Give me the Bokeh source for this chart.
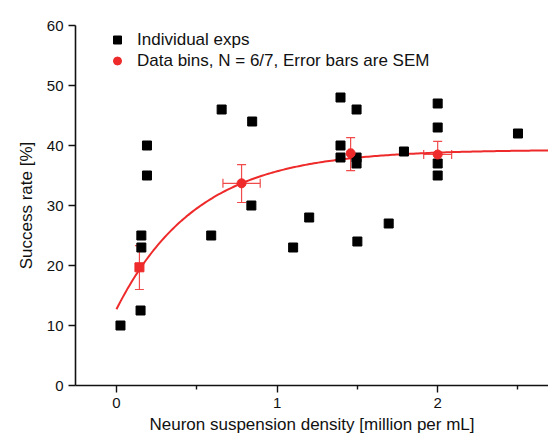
import numpy as np
from bokeh.plotting import figure
from bokeh.models import (ColumnDataSource, Range1d, Whisker, TeeHead, Legend,
                          LegendItem, FixedTicker)
from bokeh.embed import file_html
from bokeh.resources import INLINE

# Individual experiments
exp_x = [0.025, 0.15, 0.155, 0.155, 0.19, 0.19, 0.59, 0.655, 0.845, 0.84,
         1.10, 1.20, 1.50, 1.695, 1.395, 1.495, 1.395, 1.395, 1.495, 1.495,
         1.79, 2.0, 2.0, 2.0, 2.0, 2.5]
exp_y = [10, 12.5, 25, 23, 40, 35, 25, 46, 44, 30,
         23, 28, 24, 27, 48, 46, 40, 38, 38, 37,
         39, 47, 43, 37, 35, 42]

# Data bins (mean +- SEM)
bin_x = [0.143, 0.779, 1.458, 2.0]
bin_y = [19.7, 33.7, 38.7, 38.5]
bin_yerr_up = [23.3, 36.8, 41.3, 40.7]
bin_yerr_lo = [16.0, 30.5, 35.8, 36.4]
bin_xerr = [0.01, 0.116, 0.012, 0.087]
bin_marker = ["square", "circle", "circle", "circle"]

# Exponential saturation fit: y = A - B * exp(-x / t)
fit_A, fit_B, fit_t = 39.3, 26.6, 0.50

x_ticks = [0, 1, 2]
y_ticks = [0, 10, 20, 30, 40, 50, 60]

FONT = "Liberation Sans"
RED = "#ee2a2a"
ERR = "#f04a4a"
INK = "#111111"

XMAX = 2.69

p = figure(width=548, height=441, output_backend="svg", toolbar_location=None,
           x_range=Range1d(-0.255, XMAX), y_range=Range1d(0, 60),
           min_border_left=75, min_border_right=0, min_border_top=25,
           min_border_bottom=56)
p.outline_line_color = None
p.xgrid.visible = False
p.ygrid.visible = False
p.background_fill_color = "white"

# fit curve
fx = np.linspace(0, XMAX, 200)
fy = fit_A - fit_B * np.exp(-fx / fit_t)
p.line(fx, fy, line_color=RED, line_width=2)

exp_src = ColumnDataSource(dict(x=exp_x, y=exp_y))
r_exp = p.scatter("x", "y", source=exp_src, marker="square", size=9,
                  fill_color="black", line_color="black")

bsrc = ColumnDataSource(dict(
    x=bin_x, y=bin_y, up=bin_yerr_up, lo=bin_yerr_lo,
    xl=[a - b for a, b in zip(bin_x, bin_xerr)],
    xr=[a + b for a, b in zip(bin_x, bin_xerr)],
    m=bin_marker))

wy = Whisker(source=bsrc, base="x", upper="up", lower="lo", dimension="height",
             line_color=ERR, line_width=1.2,
             upper_head=TeeHead(size=9, line_color=ERR, line_width=1.2),
             lower_head=TeeHead(size=9, line_color=ERR, line_width=1.2))
wx = Whisker(source=bsrc, base="y", upper="xr", lower="xl", dimension="width",
             line_color=ERR, line_width=1.2,
             upper_head=TeeHead(size=9, line_color=ERR, line_width=1.2),
             lower_head=TeeHead(size=9, line_color=ERR, line_width=1.2))
p.add_layout(wy)
p.add_layout(wx)
r_bin = p.scatter("x", "y", source=bsrc, marker="m", size=9,
                  fill_color=RED, line_color=RED)

legend = Legend(items=[
    LegendItem(label="Individual exps", renderers=[r_exp]),
    LegendItem(label="Data bins, N = 6/7, Error bars are SEM",
               renderers=[r_bin], index=1)],
    location=(32, 314), orientation="vertical")
legend.border_line_color = None
legend.background_fill_alpha = 0
legend.padding = 0
legend.margin = 0
legend.spacing = 0
legend.glyph_width = 20
legend.glyph_height = 21
legend.label_height = 21
legend.label_standoff = 10
legend.label_text_font = FONT
legend.label_text_font_size = "17px"
legend.label_text_color = INK
p.add_layout(legend, "center")

for ax in (p.xaxis[0], p.yaxis[0]):
    ax.axis_line_color = INK
    ax.axis_line_width = 1.6
    ax.major_tick_line_color = INK
    ax.major_tick_line_width = 1.4
    ax.major_tick_out = 7
    ax.major_tick_in = 0
    ax.major_label_text_font = FONT
    ax.major_label_text_font_size = "15px"
    ax.major_label_text_color = INK
    ax.axis_label_text_font = FONT
    ax.axis_label_text_font_size = "17px"
    ax.axis_label_text_font_style = "normal"
    ax.axis_label_text_color = INK

p.xaxis.ticker = FixedTicker(ticks=x_ticks, minor_ticks=[-0.5, 0.5, 1.5, 2.5])
p.xaxis.minor_tick_out = 4
p.xaxis.minor_tick_in = 0
p.xaxis.minor_tick_line_color = INK
p.xaxis.minor_tick_line_width = 1.4
p.xaxis.major_label_standoff = 5
p.xaxis.axis_label_standoff = 4
p.xaxis.axis_label = "Neuron suspension density [million per mL]"

p.yaxis.ticker = FixedTicker(ticks=y_ticks, minor_ticks=[])
p.yaxis.minor_tick_line_color = None
p.yaxis.major_label_standoff = 5
p.yaxis.axis_label_standoff = 8
p.yaxis.axis_label = "Success rate [%]"

open("out.html", "w").write(file_html(p, INLINE))
